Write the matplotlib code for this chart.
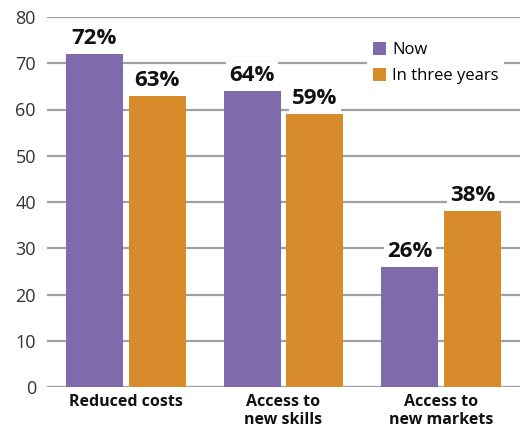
import matplotlib
matplotlib.use("Agg")
import matplotlib.pyplot as plt
import numpy as np

categories = ["Reduced costs", "Access to\nnew skills", "Access to\nnew markets"]
now_vals = [72, 64, 26]
three_year_vals = [63, 59, 38]
series_names = ["Now", "In three years"]
yticks = [0, 10, 20, 30, 40, 50, 60, 70, 80]

purple = "#7F6AAC"
orange = "#D78B2A"
grid_c = "#A0A0A0"

plt.rcParams['font.family'] = ['Open Sans', 'DejaVu Sans']

fig = plt.figure(figsize=(5.2, 4.32), dpi=100)
ax = fig.add_axes([47/520, 1-387/432, 1-47/520, (387-17)/432])

x = np.arange(len(categories))
w = 0.361
off = 0.1994
b1 = ax.bar(x - off, now_vals, w, color=purple, label=series_names[0], zorder=3)
b2 = ax.bar(x + off, three_year_vals, w, color=orange, label=series_names[1], zorder=3)

for bars, vals in ((b1, now_vals), (b2, three_year_vals)):
    for r, v in zip(bars, vals):
        ax.annotate(f"{v}%", (r.get_x() + r.get_width()/2, v), xytext=(0, 3.5),
                    textcoords="offset points", ha="center", va="bottom",
                    fontsize=16, fontweight="bold", color="#111111", zorder=4,
                    bbox=dict(boxstyle="square,pad=0.15", fc="white", ec="none"))

ax.set_ylim(0, 80)
ax.set_xlim(-0.5, 2.5)
ax.set_yticks(yticks)
ax.set_xticks(x)
ax.set_xticklabels(categories, fontsize=11.5, fontweight="bold", color="#111111",
                   linespacing=1.2)
ax.tick_params(axis="y", length=0, pad=8, labelsize=13, labelcolor="#333333")
ax.tick_params(axis="x", length=0, pad=5)
ax.yaxis.grid(True, color=grid_c, linewidth=1.6, zorder=0)
ax.set_axisbelow(True)
for s in ax.spines.values():
    s.set_visible(False)

leg = ax.legend(loc="upper left", bbox_to_anchor=(367/520, 1-36/432),
                bbox_transform=fig.transFigure, frameon=True, fancybox=False,
                edgecolor="none", facecolor="white", framealpha=1,
                fontsize=12, handlelength=0.8, handleheight=0.8,
                handletextpad=0.35, labelspacing=0.6, borderpad=0.35,
                borderaxespad=0)
leg.set_zorder(5)

fig.savefig("out.png", dpi=100)
